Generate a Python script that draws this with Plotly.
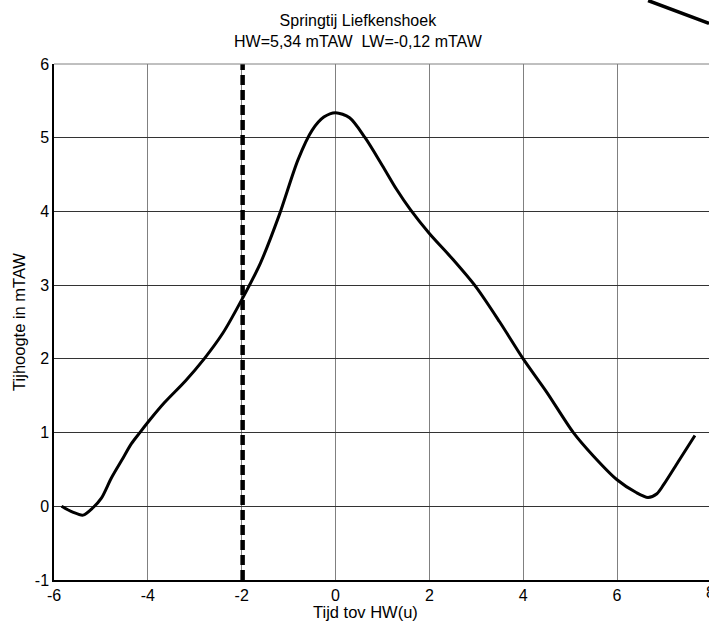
import plotly.graph_objects as go

# Data (time relative to HW in hours, water level in mTAW)
time_h = [-5.84, -5.6, -5.38, -5.17, -4.99, -4.78, -4.56, -4.35, -4.17, -3.96, -3.64,
          -3.2, -2.8, -2.4, -2.0, -1.6, -1.2, -0.8, -0.5, -0.25, 0.0,
          0.3, 0.63, 1.0, 1.3, 1.6, 2.0, 2.5, 3.0, 3.5, 4.0, 4.5, 5.07, 5.5, 6.0,
          6.4, 6.66, 6.85, 7.0, 7.3, 7.66]
level_m = [0.0, -0.08, -0.12, -0.02, 0.11, 0.38, 0.62, 0.85, 1.0, 1.17, 1.41,
           1.7, 2.0, 2.35, 2.8, 3.3, 3.95, 4.7, 5.1, 5.28, 5.34,
           5.27, 5.0, 4.62, 4.3, 4.02, 3.7, 3.35, 2.97, 2.5, 2.0, 1.55, 1.0, 0.68, 0.36,
           0.19, 0.12, 0.17, 0.3, 0.6, 0.96]
marker_time = -1.98
y_limits = [-1, 6]
x_ticks = [-6, -4, -2, 0, 2, 4, 6]
y_ticks = [-1, 0, 1, 2, 3, 4, 5, 6]

FONT = "Liberation Sans, Arial, sans-serif"

fig = go.Figure()
fig.add_trace(go.Scatter(x=time_h, y=level_m, mode="lines",
                         line=dict(color="black", width=3, shape="spline", smoothing=0.8),
                         hoverinfo="skip", showlegend=False))
fig.add_trace(go.Scatter(x=[marker_time, marker_time], y=y_limits, mode="lines",
                         line=dict(color="black", width=4.5, dash="10px,5px"),
                         hoverinfo="skip", showlegend=False))

fig.update_layout(
    width=709, height=624,
    margin=dict(l=54, r=0, t=64, b=44),
    paper_bgcolor="white", plot_bgcolor="white",
    font=dict(family=FONT, size=16, color="black"),
    showlegend=False,
)
fig.update_xaxes(range=[-6, 7.96], tickvals=x_ticks, ticktext=[str(v) for v in x_ticks],
                 showgrid=True, gridcolor="#808080", gridwidth=1,
                 showline=True, linecolor="black", linewidth=1.5,
                 zeroline=False, ticks="", ticklen=0,
                 tickfont=dict(size=16))
fig.update_yaxes(range=y_limits, tickvals=y_ticks, ticktext=[str(v) for v in y_ticks],
                 showgrid=True, gridcolor="#333333", gridwidth=1,
                 showline=True, linecolor="black", linewidth=1.5,
                 zeroline=False, ticks="", ticklen=0,
                 tickfont=dict(size=16),
                 title=dict(text="Tijhoogte in mTAW", standoff=5, font=dict(size=16.5)))

# chart title (two lines) above the axes
fig.add_annotation(text="Springtij Liefkenshoek<br>HW=5,34 mTAW  LW=-0,12 mTAW",
                   x=0.465, xref="paper", xanchor="center",
                   y=1, yref="paper", yanchor="bottom", yshift=12, showarrow=False,
                   font=dict(size=16))
# x-axis title
fig.add_annotation(text="Tijd tov HW(u)", x=0.475, xref="paper", xanchor="center",
                   y=0, yref="paper", yanchor="top", yshift=-21, showarrow=False,
                   font=dict(size=16.5))
# partially visible "8" label at the cropped right edge
fig.add_annotation(text="8", x=1.003, xref="paper", xanchor="center", y=0, yref="paper",
                   yanchor="top", yshift=-2, showarrow=False, font=dict(size=16))
# top border of the axes
fig.add_shape(type="line", xref="paper", yref="paper", x0=0, x1=1, y0=1, y1=1,
              line=dict(color="#808080", width=1))
# fragment of a stray line at the top-right corner of the image
fig.add_shape(type="line", xref="paper", yref="paper", x0=0.907, y0=1.123, x1=1.0, y1=1.0786,
              line=dict(color="black", width=3.5))

fig.write_html("out.html")
